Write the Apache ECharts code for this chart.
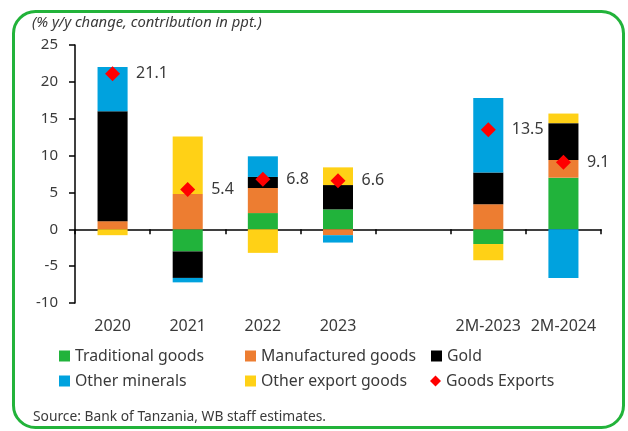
<!DOCTYPE html>
<html>
<head>
<meta charset="utf-8">
<script src="https://cdn.jsdelivr.net/npm/echarts@6/dist/echarts.min.js"></script>
<style>
html,body{margin:0;padding:0;background:#fff;}
#main{width:628px;height:431px;}
</style>
</head>
<body>
<div id="main"></div>
<script>
// categories and contributions (ppt.)
var categories = ['2020', '2021', '2022', '2023', '', '2M-2023', '2M-2024'];
var traditional = [0, -3.0, 2.2, 2.7, null, -2.0, 7.0];
var manufactured = [1.1, 4.8, 3.4, -0.8, null, 3.4, 2.4];
var gold = [14.9, -3.6, 1.5, 3.3, null, 4.3, 5.0];
var otherMinerals = [6.0, -0.6, 2.8, -1.0, null, 10.1, -6.6];
var otherExport = [-0.8, 7.8, -3.2, 2.4, null, -2.2, 1.3];
var goodsExports = [21.1, 5.4, 6.8, 6.6, null, 13.5, 9.1];

var FONT = 'Noto Sans';
var TXT = '#3a3a3a';

var chart = echarts.init(document.getElementById('main'));

function barSeries(name, data, color) {
    return {
        name: name,
        type: 'bar',
        stack: 'total',
        barWidth: '40%',
        data: data,
        itemStyle: {color: color},
        emphasis: {disabled: true}
    };
}

function legendAt(name, left, top, icon) {
    return {
        data: [{name: name, icon: icon || 'rect'}],
        left: left,
        top: top,
        padding: 0,
        itemWidth: 11,
        itemHeight: 11,
        itemGap: 0,
        selectedMode: false,
        textStyle: {fontFamily: FONT, fontSize: 15.8, color: TXT, lineHeight: 18}
    };
}

var option = {
    animation: false,
    backgroundColor: '#fff',
    title: [
        {
            text: '(% y/y change, contribution in ppt.)',
            left: 32, top: 15, padding: 0,
            textStyle: {fontFamily: FONT, fontSize: 14.8, fontStyle: 'italic', fontWeight: 'normal', color: TXT}
        },
        {
            text: 'Source: Bank of Tanzania, WB staff estimates.',
            left: 33, top: 410, padding: 0,
            textStyle: {fontFamily: FONT, fontSize: 13.8, fontWeight: 'normal', color: TXT}
        }
    ],
    graphic: [{
        type: 'rect',
        shape: {x: 13.5, y: 11.5, width: 610, height: 416, r: 22},
        style: {fill: 'none', stroke: '#22B33A', lineWidth: 3},
        silent: true
    }],
    legend: [
        legendAt('Traditional goods', 59, 347),
        legendAt('Manufactured goods', 245, 347),
        legendAt('Gold', 431, 347),
        legendAt('Other minerals', 59, 372),
        legendAt('Other export goods', 245, 372),
        legendAt('Goods Exports', 430, 372, 'diamond')
    ],
    grid: {left: 75, right: 27, top: 45, bottom: 128},
    xAxis: {
        type: 'category',
        data: categories,
        axisLine: {onZero: true, lineStyle: {color: '#000', width: 1.5}},
        axisTick: {show: true, length: 5, lineStyle: {color: '#000', width: 1.5}},
        axisLabel: {margin: 15, fontFamily: FONT, fontSize: 16, color: TXT, interval: 0},
        splitLine: {show: false}
    },
    yAxis: {
        type: 'value',
        min: -10,
        max: 25,
        interval: 5,
        axisLine: {show: true, lineStyle: {color: '#000', width: 1.5}},
        axisTick: {show: true, length: 6, lineStyle: {color: '#000', width: 1.5}},
        axisLabel: {margin: 17, fontFamily: FONT, fontSize: 15, color: TXT},
        splitLine: {show: false}
    },
    series: [
        barSeries('Traditional goods', traditional, '#21B33B'),
        barSeries('Manufactured goods', manufactured, '#ED7D31'),
        barSeries('Gold', gold, '#000000'),
        barSeries('Other minerals', otherMinerals, '#00A2DE'),
        barSeries('Other export goods', otherExport, '#FFD116'),
        {
            name: 'Goods Exports',
            type: 'scatter',
            data: goodsExports,
            symbol: 'diamond',
            symbolSize: 15,
            itemStyle: {color: '#FF0000', opacity: 1},
            label: {
                show: true,
                position: 'right',
                distance: 16,
                fontFamily: FONT,
                fontSize: 16,
                color: TXT,
                formatter: function (p) { return p.value.toFixed(1); }
            },
            z: 5
        }
    ]
};

chart.setOption(option);
</script>
</body>
</html>
